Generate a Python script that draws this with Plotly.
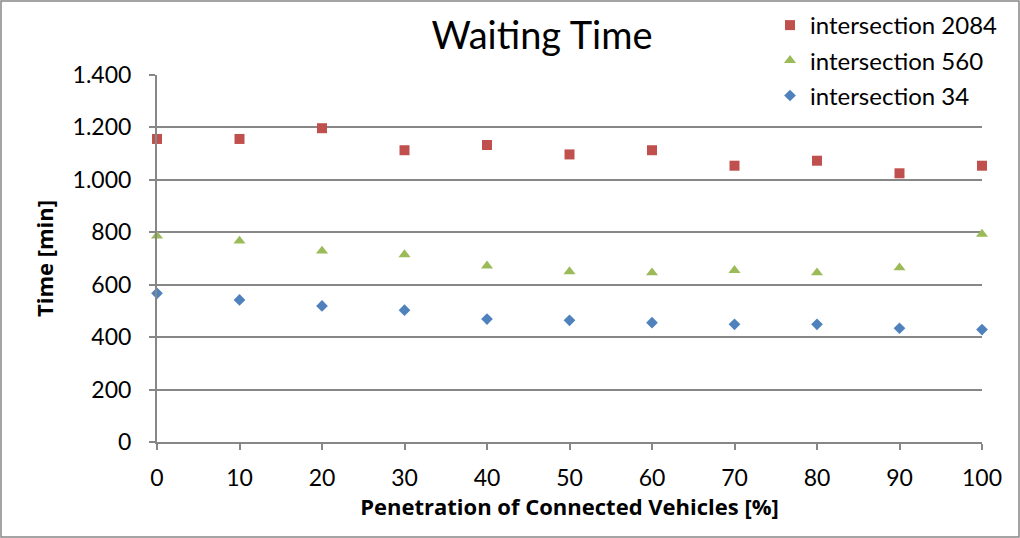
import plotly.graph_objects as go

penetration = [0, 10, 20, 30, 40, 50, 60, 70, 80, 90, 100]
inter_2084 = [1156, 1156, 1197, 1113, 1133, 1097, 1113, 1054, 1073, 1025, 1054]
inter_560 = [786, 767, 729, 715, 672, 650, 646, 655, 646, 665, 793]
inter_34 = [567, 542, 519, 503, 469, 464, 455, 449, 449, 434, 429]

FONT = "Lato, Carlito, Open Sans, sans-serif"
BFONT = "Open Sans, Lato, sans-serif"

fig = go.Figure()
fig.add_trace(go.Scatter(x=penetration, y=inter_2084, mode="markers", name="intersection 2084",
                         legendgroup="a",
                         marker=dict(symbol="square", size=10, color="#C0504D"), cliponaxis=False))
fig.add_trace(go.Scatter(x=penetration, y=inter_560, mode="markers", name="intersection 560",
                         legendgroup="b",
                         marker=dict(symbol="triangle-up", size=10.5, color="#9BBB59"), cliponaxis=False))
fig.add_trace(go.Scatter(x=penetration, y=inter_34, mode="markers", name="intersection 34",
                         legendgroup="c",
                         marker=dict(symbol="diamond", size=9, color="#4F81BD"), cliponaxis=False))

fig.update_layout(
    width=1020, height=538,
    margin=dict(l=157, r=38, t=75, b=96, autoexpand=False),
    paper_bgcolor="white", plot_bgcolor="white",
    separators=",.",
    font=dict(family=FONT, size=23, color="#000000"),
    title=dict(text="Waiting Time", x=542/1020, xanchor="center", y=1-36/538, yanchor="middle",
               font=dict(family=FONT, size=38, color="#000000")),
    showlegend=True,
    legend=dict(x=(770-157)/825, xanchor="left", y=1+(75-3)/367, yanchor="top",
                bgcolor="rgba(0,0,0,0)", font=dict(family=FONT, size=24),
                itemwidth=30, tracegroupgap=1),
    xaxis=dict(range=[0, 100], tickvals=penetration, ticks="outside", ticklen=6, tickcolor="#878787",
               tickwidth=1.5,
               showline=True, linecolor="#878787", linewidth=2, showgrid=False, zeroline=False,
               tickfont=dict(family=FONT, size=23), ticklabelstandoff=8,
               title=dict(text="<b>Penetration of Connected Vehicles [%]</b>", standoff=8,
                          font=dict(family=BFONT, size=22))),
    yaxis=dict(range=[0, 1400], dtick=200, tickformat=",d", ticks="outside", ticklen=6, tickcolor="#878787",
               tickwidth=1.5,
               showline=True, linecolor="#878787", linewidth=2, showgrid=True, gridcolor="#878787",
               gridwidth=2, zeroline=False, tickfont=dict(family=FONT, size=23), ticklabelstandoff=13,
               title=dict(text="<b>Time [min]</b>", standoff=13, font=dict(family=BFONT, size=22))),
)
fig.add_shape(type="rect", xref="paper", yref="paper",
              x0=-156/825, x1=1+37/825, y0=-95/367, y1=1+74/367,
              line=dict(color="#878787", width=1.5), fillcolor="rgba(0,0,0,0)", layer="below")

fig.write_html("out.html", config={"displayModeBar": False},
               post_script="document.body.style.margin='0px';")
